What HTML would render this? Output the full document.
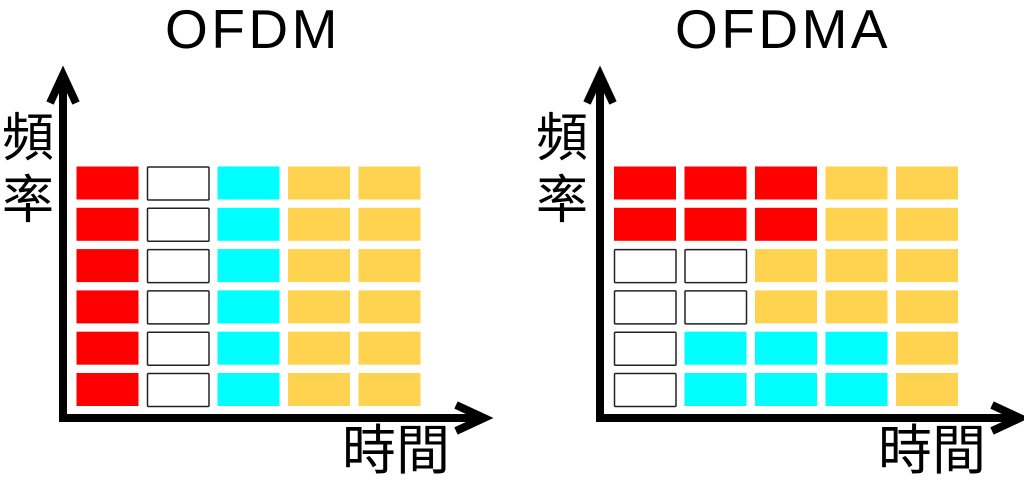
<!DOCTYPE html>
<html><head><meta charset="utf-8"><style>
body{margin:0;width:1024px;height:481px;background:#fff;overflow:hidden;position:relative;font-family:"Liberation Sans","Noto Sans CJK TC",sans-serif}
.t{position:absolute;color:#000;white-space:nowrap;line-height:1}
</style></head><body>
<div class="t" style="left:165px;top:2px;font-size:55px;letter-spacing:3.5px">OFDM</div>
<div class="t" style="left:675px;top:2px;font-size:55px;letter-spacing:3.5px">OFDMA</div>
<div class="t" style="left:2px;top:108px;font-size:52px;line-height:62px;width:56px">頻<br>率</div>
<div class="t" style="left:536px;top:108px;font-size:52px;line-height:62px;width:56px">頻<br>率</div>
<div class="t" style="left:342px;top:424px;font-size:54px;">時間</div>
<div class="t" style="left:878px;top:424px;font-size:54px;">時間</div>
<svg width="1024" height="481" style="position:absolute;left:0;top:0">
<g stroke="#000" stroke-width="8" fill="none">
<path d="M63 418V76M50 103L63 75L76 103M59 418H482M456 405L484 418L456 431"/>
<path d="M600 418V76M587 103L600 75L613 103M596 418H1018M992 405L1020 418L992 431"/>
</g>
<g id="cells"></g>
</svg>
<script>
var R='#ff0000',W='w',C='#00ffff',Y='#ffd250';
var L=[[R,W,C,Y,Y],[R,W,C,Y,Y],[R,W,C,Y,Y],[R,W,C,Y,Y],[R,W,C,Y,Y],[R,W,C,Y,Y]];
var M=[[R,R,R,Y,Y],[R,R,R,Y,Y],[W,W,Y,Y,Y],[W,W,Y,Y,Y],[W,C,C,C,Y],[W,C,C,C,Y]];
var g=document.getElementById('cells'),s='';
function draw(m,x0){for(var r=0;r<6;r++)for(var c=0;c<5;c++){var x=x0+c*70.5,y=166.5+r*41.3,f=m[r][c];
if(f==W)s+='<rect x="'+(x+0.5)+'" y="'+(y+0.5)+'" width="61.5" height="33" fill="#fff" stroke="#222" stroke-width="1.5" rx="1"/>';
else s+='<rect x="'+x+'" y="'+y+'" width="62" height="33" fill="'+f+'"/>';}}
draw(L,76.5);draw(M,614);g.innerHTML=s;
</script>
</body></html>
